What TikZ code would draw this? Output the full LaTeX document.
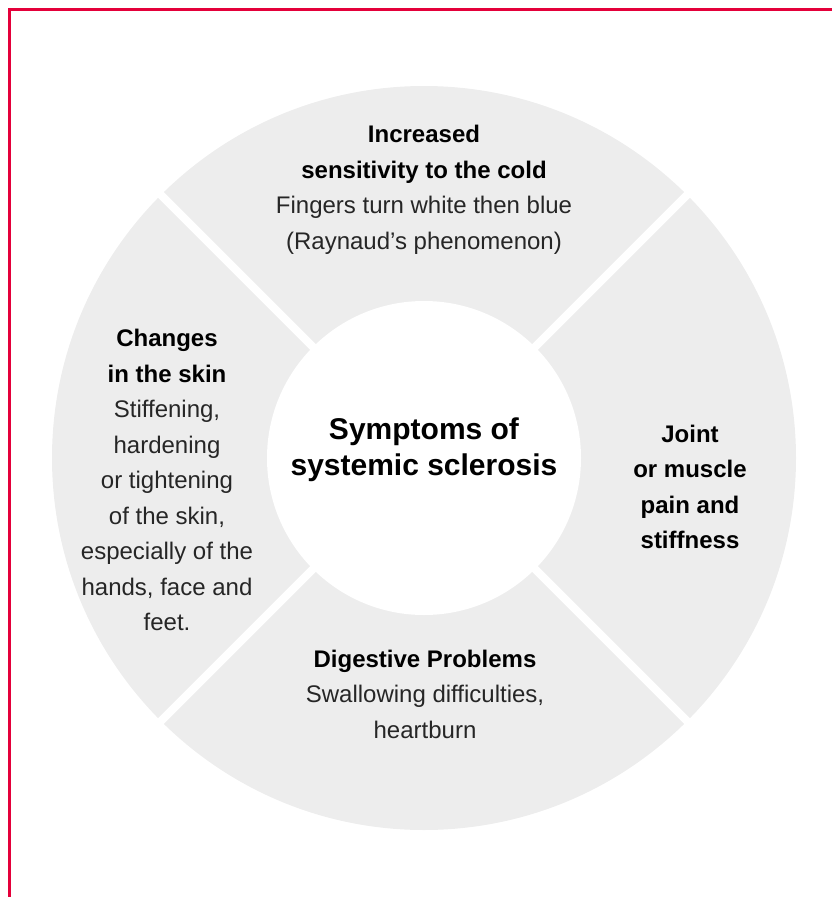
\documentclass[tikz,border=0pt]{standalone}
\usepackage{fontspec}
\setmainfont{Liberation Sans}
\usepackage{tikz}
\definecolor{ssred}{HTML}{E4003A}
\definecolor{ssgray}{HTML}{EDEDED}
\definecolor{sstext}{HTML}{262626}

\begin{document}
\begin{tikzpicture}[x=1pt,y=-1pt,
  ring/.style={fill=ssgray},
  gap/.style={draw=white,line width=8pt},
  hub/.style={fill=white},
  label/.style={align=center,inner sep=0pt,text=sstext,font=\fontsize{24}{35.5}\selectfont},
  title/.style={align=center,inner sep=0pt,text=black,font=\bfseries\fontsize{30}{36}\selectfont}]
  \useasboundingbox (0,0) rectangle (832,897);
  %frame
  \draw[ssred,line width=3pt] (9.5,897) -- (9.5,9) -- (832,9);
  %ring
  \coordinate (c) at (424,458);
  \fill[ring] (c) circle[radius=372pt];
  \foreach \a in {45,135,225,315}
    \draw[gap] (c) -- ++(\a:380);
  \fill[hub] (c) circle[radius=157pt];
  %centre
  \node[title] (core) at (424,450) {Symptoms of\\systemic sclerosis};
  %top
  \node[label] (cold) at (424,190) {\textbf{\color{black}Increased}\\\textbf{\color{black}sensitivity to the cold}\\Fingers turn white then blue\\(Raynaud's phenomenon)};
  %left
  \node[label] (skin) at (167,480) {\textbf{\color{black}Changes}\\\textbf{\color{black}in the skin}\\Stiffening,\\hardening\\or tightening\\of the skin,\\especially of the\\hands, face and\\feet.};
  %right
  \node[label,font=\bfseries\fontsize{24}{35.5}\selectfont,text=black] (joint) at (690,487) {Joint\\or muscle\\pain and\\stiffness};
  %bottom
  \node[label] (digest) at (425,694) {\textbf{\color{black}Digestive Problems}\\Swallowing difficulties,\\heartburn};
\end{tikzpicture}
\end{document}
